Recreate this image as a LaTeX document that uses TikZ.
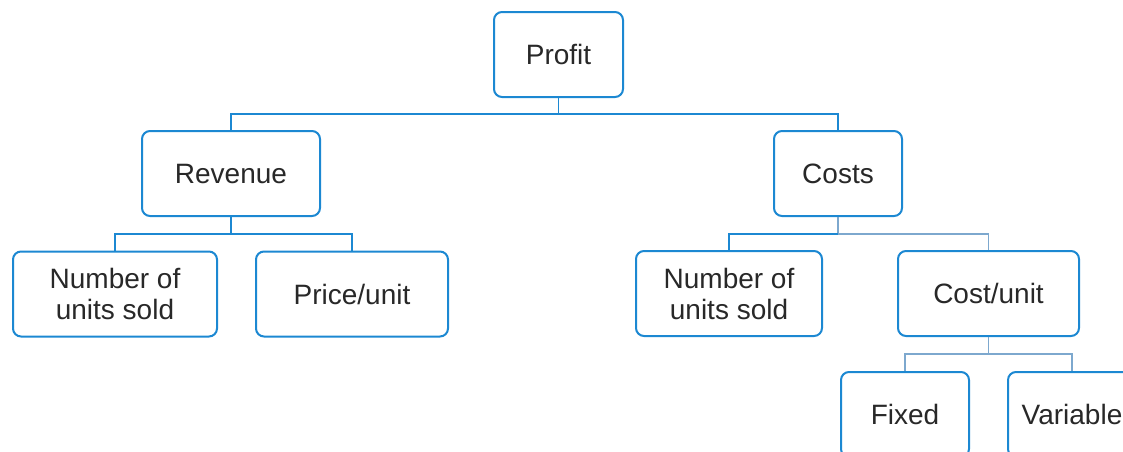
\documentclass[tikz,border=0pt]{standalone}
\usepackage{fontspec}
\setmainfont{Liberation Sans}
\definecolor{boxblue}{RGB}{28,136,210}
\definecolor{linegray}{RGB}{125,168,206}
\definecolor{txt}{RGB}{40,40,40}
\begin{document}
\begin{tikzpicture}[x=1pt,y=-1pt,
  box/.style={draw=boxblue,line width=2pt,rounded corners=8pt,fill=white,
    text=txt,font=\fontsize{28}{31}\selectfont,align=center,inner sep=0pt},
  conn/.style={draw=boxblue,line width=1.8pt},
  connb/.style={draw=linegray,line width=1.8pt}]
\useasboundingbox (0,0) rectangle (1123,451);
\clip (0,0) rectangle (1123,451);
\node[box,minimum width=129pt,minimum height=85pt] (profit) at (558.5,54.5) {Profit};
\node[box,minimum width=178pt,minimum height=85pt] (rev) at (231,173.5) {Revenue};
\node[box,minimum width=128pt,minimum height=85pt] (costs) at (838,173.5) {Costs};
\node[box,minimum width=204pt,minimum height=85pt] (n1) at (115,294) {Number of\\units sold};
\node[box,minimum width=192pt,minimum height=85pt] (price) at (352,294) {Price/unit};
\node[box,minimum width=186pt,minimum height=85pt] (n2) at (729,293.5) {Number of\\units sold};
\node[box,minimum width=181pt,minimum height=85pt] (cu) at (988.5,293.5) {Cost/unit};
\node[box,minimum width=128pt,minimum height=85pt] (fixed) at (905,414.5) {Fixed};
\node[box,minimum width=128pt,minimum height=85pt] (var) at (1072,414.5) {Variable};
\coordinate (j1) at (558.5,114);
\coordinate (j2) at (231,234);
\coordinate (j3) at (838,234);
\coordinate (j4) at (988.5,354);
\draw[conn] (profit.south) -- (j1) -| (rev.north);
\draw[conn] (j1) -| (costs.north);
\draw[conn] (rev.south) -- (j2) -| (n1.north);
\draw[conn] (j2) -| (price.north);
\draw[connb] (costs.south) -- (j3);
\draw[conn] (j3) -| (n2.north);
\draw[connb] (j3) -| (cu.north);
\draw[connb] (cu.south) -- (j4) -| (fixed.north);
\draw[connb] (j4) -| (var.north);
\end{tikzpicture}
\end{document}
